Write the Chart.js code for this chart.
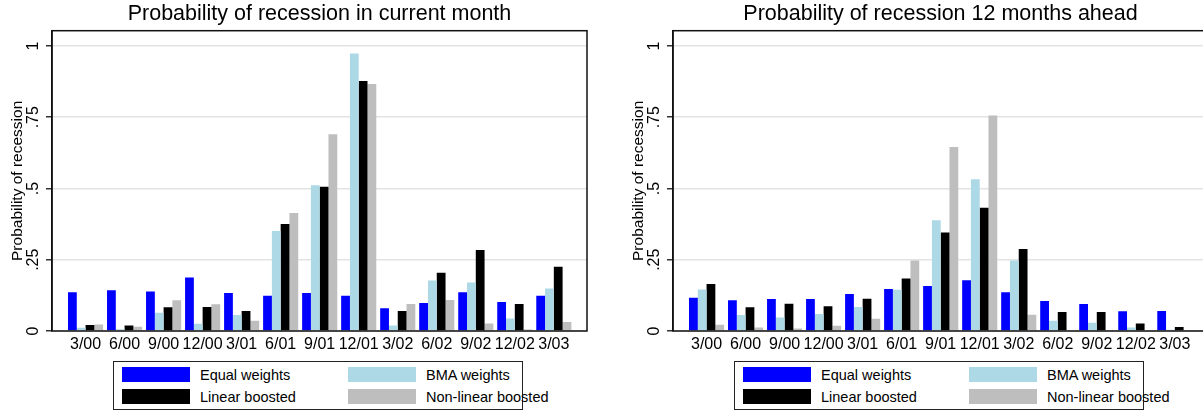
<!DOCTYPE html>
<html><head><meta charset="utf-8">
<script src="https://cdn.jsdelivr.net/npm/chart.js@4.4.1/dist/chart.umd.min.js"></script>
<style>
html,body{margin:0;padding:0;background:#fff;}
#wrap{position:relative;width:1203px;height:413px;overflow:hidden;background:#fff;font-family:"Liberation Sans",Arial,Helvetica,sans-serif;}
.cv{position:absolute;top:0;}
.legend{position:absolute;top:361px;width:410px;height:49px;border:1px solid #222;box-sizing:border-box;background:#fff;}
.item{position:absolute;display:flex;align-items:center;font-size:14.5px;color:#000;height:15px;white-space:nowrap;}
.sw{width:68px;height:15px;margin-right:10px;flex:none;}
</style></head>
<body>
<div id="wrap">
 <canvas id="c1" class="cv" width="600" height="360" style="left:0"></canvas>
 <canvas id="c2" class="cv" width="600" height="360" style="left:621px"></canvas>
 <div id="lg1" class="legend" style="left:113px"></div>
 <div id="lg2" class="legend" style="left:734px"></div>
</div>
<script>
const categories = ['3/00','6/00','9/00','12/00','3/01','6/01','9/01','12/01','3/02','6/02','9/02','12/02','3/03'];
const seriesNames = ['Equal weights','BMA weights','Linear boosted','Non-linear boosted'];

const eqCurrent     = [0.136,0.143,0.139,0.188,0.133,0.124,0.133,0.124,0.080,0.098,0.136,0.102,0.124];
const bmaCurrent    = [0.011,0.006,0.064,0.025,0.056,0.351,0.511,0.974,0.019,0.177,0.170,0.044,0.149];
const linCurrent    = [0.021,0.019,0.083,0.084,0.070,0.375,0.506,0.877,0.070,0.204,0.284,0.095,0.225];
const nonlinCurrent = [0.023,0.015,0.108,0.094,0.036,0.414,0.690,0.867,0.095,0.109,0.026,0.005,0.032];

const eqAhead     = [0.117,0.108,0.112,0.112,0.130,0.147,0.158,0.178,0.136,0.105,0.095,0.069,0.070];
const bmaAhead    = [0.146,0.056,0.047,0.060,0.084,0.145,0.389,0.532,0.247,0.036,0.029,0.012,0.004];
const linAhead    = [0.165,0.083,0.096,0.087,0.113,0.184,0.346,0.432,0.288,0.067,0.067,0.026,0.014];
const nonlinAhead = [0.022,0.012,0.009,0.018,0.043,0.247,0.646,0.756,0.057,0.000,0.000,0.000,0.000];

const yTickValues = [0,0.25,0.5,0.75,1];
const yTickLabels = ['0','.25','.5','.75','1'];
const titleCurrent = 'Probability of recession in current month';
const titleAhead = 'Probability of recession 12 months ahead';
const yAxisTitle = 'Probability of recession';

const seriesColors = ['#0000ff','#add8e6','#000000','#bebebe'];
const FONT = '"Liberation Sans", Arial, Helvetica, sans-serif';

const framePlugin = {
  id: 'frame',
  afterDatasetsDraw(chart) {
    const {ctx, chartArea: a} = chart;
    ctx.save();
    ctx.strokeStyle = '#111';
    ctx.lineWidth = 1.5;
    ctx.strokeRect(a.left, a.top, a.right - a.left, a.bottom - a.top);
    ctx.restore();
  }
};

function makeChart(id, title, series) {
  const datasets = series.map((vals, i) => ({
    label: seriesNames[i],
    data: vals.map((v, k) => ({x: k, y: v})),
    backgroundColor: seriesColors[i],
    borderWidth: 0,
    categoryPercentage: 0.9,
    barPercentage: 1.0
  }));
  return new Chart(document.getElementById(id), {
    type: 'bar',
    data: {datasets},
    options: {
      responsive: false,
      animation: false,
      layout: {padding: {left: 0, right: 13, top: 0, bottom: 0}},
      plugins: {
        legend: {display: false},
        tooltip: {enabled: false},
        title: {
          display: true, text: title, fullSize: false, color: '#000',
          font: {family: FONT, size: 21.5, weight: 'normal'},
          padding: {top: 1.5, bottom: 3.4}
        }
      },
      scales: {
        x: {
          type: 'linear', min: -0.86, max: 12.85, offset: false,
          grid: {display: false, drawTicks: false, offset: false},
          border: {display: false},
          afterBuildTicks: s => { s.ticks = categories.map((c, i) => ({value: i})); },
          afterFit: s => { s.height = 29; },
          ticks: {
            autoSkip: false, maxRotation: 0, minRotation: 0, padding: 4, color: '#000',
            font: {family: FONT, size: 16},
            callback: v => categories[v]
          }
        },
        y: {
          min: 0, max: 1.0536,
          afterBuildTicks: s => { s.ticks = yTickValues.map(v => ({value: v})); },
          afterFit: s => { s.width = 52; },
          grid: {color: '#e3e3e3', lineWidth: 1.5, tickColor: '#333', tickLength: 6, tickWidth: 1.5},
          border: {display: true, color: '#111', width: 1.5},
          title: {
            display: true, text: yAxisTitle, color: '#000',
            font: {family: FONT, size: 15.5}, padding: {top: 8, bottom: 0}
          },
          ticks: {
            minRotation: 90, maxRotation: 90, crossAlign: 'center', padding: 1, color: '#000',
            font: {family: FONT, size: 16},
            callback: v => yTickLabels[yTickValues.indexOf(v)]
          }
        }
      }
    },
    plugins: [framePlugin]
  });
}

function buildLegend(id, chart) {
  const el = document.getElementById(id);
  chart.data.datasets.forEach((ds, i) => {
    const it = document.createElement('div');
    it.className = 'item';
    it.style.left = (i % 2 ? 234 : 8) + 'px';
    it.style.top = (i < 2 ? 5 : 27) + 'px';
    const sw = document.createElement('span');
    sw.className = 'sw';
    sw.style.background = ds.backgroundColor;
    const tx = document.createElement('span');
    tx.textContent = ds.label;
    it.appendChild(sw); it.appendChild(tx);
    el.appendChild(it);
  });
}

const ch1 = makeChart('c1', titleCurrent, [eqCurrent, bmaCurrent, linCurrent, nonlinCurrent]);
const ch2 = makeChart('c2', titleAhead, [eqAhead, bmaAhead, linAhead, nonlinAhead]);
buildLegend('lg1', ch1);
buildLegend('lg2', ch2);
</script>
</body></html>
